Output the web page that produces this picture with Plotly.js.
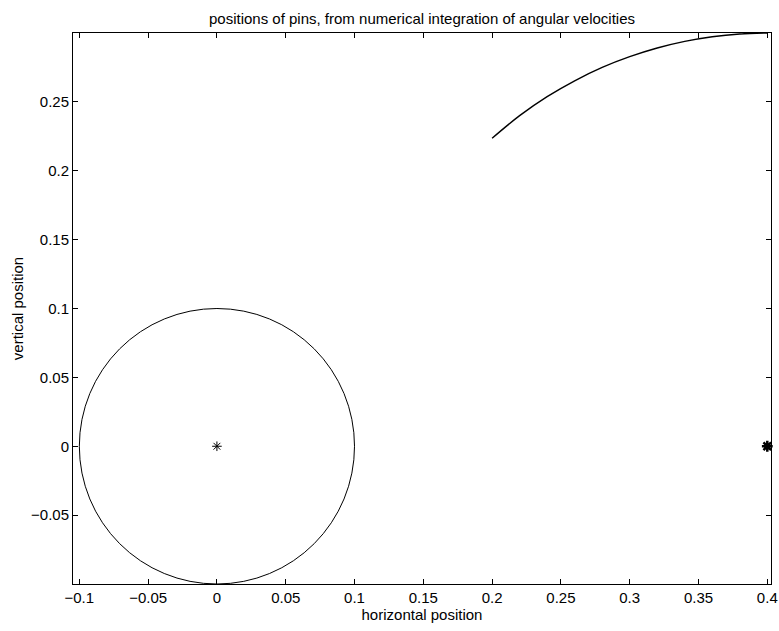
<!DOCTYPE html>
<html>
<head>
<meta charset="utf-8">
<script src="https://cdn.plot.ly/plotly-3.0.1.min.js"></script>
<style>html,body{margin:0;padding:0;background:#fff;}#chart{width:779px;height:631px;}</style>
</head>
<body>
<div id="chart"></div>
<script>
// pin trajectory
const arcX = [0.20, 0.22, 0.24, 0.26, 0.28, 0.30, 0.32, 0.34, 0.36, 0.38, 0.40];
const arcY = [0.2236, 0.2400, 0.2538, 0.2653, 0.2750, 0.2828, 0.2891, 0.2939, 0.2973, 0.2993, 0.3000];
// pin positions
const pinX = [0, 0.4];
const pinY = [0, 0];
// circle (center and radius)
const circleCenter = [0, 0];
const circleRadius = 0.1;
// ticks
const xTicks = [-0.1, -0.05, 0, 0.05, 0.1, 0.15, 0.2, 0.25, 0.3, 0.35, 0.4];
const xTickText = ['\u22120.1', '\u22120.05', '0', '0.05', '0.1', '0.15', '0.2', '0.25', '0.3', '0.35', '0.4'];
const yTicks = [-0.05, 0, 0.05, 0.1, 0.15, 0.2, 0.25];
const yTickText = ['\u22120.05', '0', '0.05', '0.1', '0.15', '0.2', '0.25'];

const font = {family: 'Liberation Sans, Arial, sans-serif', size: 15, color: '#000'};

const traces = [
  {x: arcX, y: arcY, mode: 'lines', line: {color: '#000', width: 1.4, shape: 'spline'}, hoverinfo: 'none'},
  {x: [pinX[0]], y: [pinY[0]], mode: 'markers', marker: {symbol: 'asterisk-open', size: 8, color: '#000', line: {color: '#000', width: 1}}, hoverinfo: 'none'},
  {x: [pinX[1]], y: [pinY[1]], mode: 'markers', marker: {symbol: 'asterisk-open', size: 9, color: '#000', line: {color: '#000', width: 2.5}}, hoverinfo: 'none', cliponaxis: false}
];

const axisCommon = {
  showgrid: false, zeroline: false, showline: true, mirror: 'ticks',
  linecolor: '#000', linewidth: 1, ticks: 'inside', ticklen: 5, tickcolor: '#000',
  tickfont: font, tickmode: 'array'
};

const layout = {
  width: 779, height: 631,
  margin: {l: 73, r: 8, t: 33, b: 47, pad: 0},
  paper_bgcolor: '#fff', plot_bgcolor: '#fff',
  showlegend: false,
  font: font,
  title: {text: 'positions of pins, from numerical integration of angular velocities', font: font, x: 0.5, xref: 'paper', xanchor: 'center', y: 0.971, yanchor: 'middle'},
  xaxis: Object.assign({}, axisCommon, {
    range: [-0.1046, 0.4027], tickvals: xTicks, ticktext: xTickText,
    title: {text: 'horizontal position', font: font, standoff: 4}
  }),
  yaxis: Object.assign({}, axisCommon, {
    range: [-0.1, 0.3], tickvals: yTicks, ticktext: yTickText,
    title: {text: 'vertical position', font: font, standoff: 3}
  }),
  shapes: [{
    type: 'circle', xref: 'x', yref: 'y',
    x0: circleCenter[0] - circleRadius, x1: circleCenter[0] + circleRadius,
    y0: circleCenter[1] - circleRadius, y1: circleCenter[1] + circleRadius,
    line: {color: '#000', width: 1}
  }]
};

Plotly.newPlot('chart', traces, layout, {staticPlot: true, displayModeBar: false});
</script>
</body>
</html>
